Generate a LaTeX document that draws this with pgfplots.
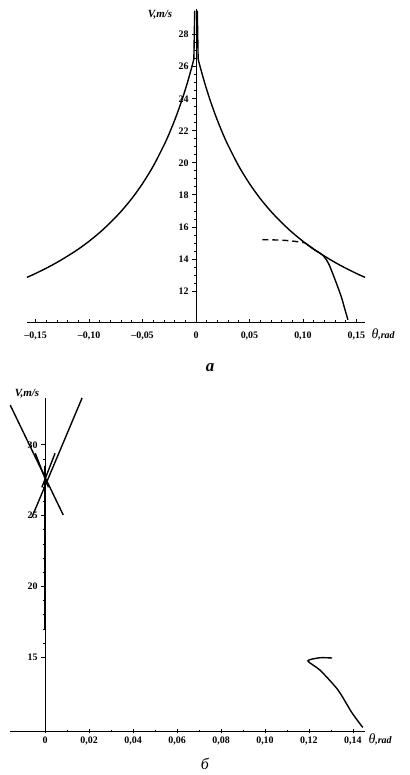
\documentclass[border=0pt]{standalone}
\usepackage{pgfplots}
\pgfplotsset{compat=1.18}
\usepackage{fontspec}
\setmainfont{Liberation Serif}

\pgfplotsset{
  velo/.style={
    scale only axis, clip=false,
    axis x line=bottom, axis y line=middle,
    axis line style={-, line width=1pt},
    hide obscured x ticks=false, hide obscured y ticks=false,
    major tick length=4bp, minor tick length=2.5bp,
    tick style={line width=0.7pt, black},
    ticklabel style={font=\fontsize{10}{11}\selectfont\bfseries},
  },
  crv/.style={black, line width=1.4pt, mark=none},
}

\begin{document}
\begin{tikzpicture}
\useasboundingbox (0,0) rectangle (410bp,775bp);

% ---- a ----
\begin{axis}[velo,
  at={(27bp,452bp)}, anchor=south west,
  width=338bp, height=314bp,
  xmin=-0.158, xmax=0.158, ymin=10, ymax=29.6,
  xtick={-0.15,-0.10,-0.05,0,0.05,0.10,0.15},
  xticklabels={{--0,15},{--0,10},{--0,05},{0},{0,05},{0,10},{0,15}},
  xticklabel style={yshift=-5bp},
  minor x tick num=4, xtick align=inside,
  ytick={12,14,16,18,20,22,24,26,28},
  yticklabels={12,14,16,18,20,22,24,26,28},
  minor y tick num=3, ytick align=outside,
]
\addplot[crv, smooth] coordinates {
  (-0.158,12.85) (-0.15,13.09) (-0.14,13.42) (-0.13,13.78) (-0.12,14.18)
  (-0.11,14.61) (-0.10,15.10) (-0.09,15.65) (-0.08,16.27) (-0.07,16.97)
  (-0.06,17.77) (-0.05,18.70) (-0.04,19.79) (-0.03,21.09) (-0.025,21.83)
  (-0.02,22.65) (-0.016,23.37) (-0.012,24.15) (-0.008,25.01) (-0.004,25.96)
  (-0.002,26.47)
};
\addplot[crv] coordinates {(-0.002,26.47) (-0.0012,29.5)};
\addplot[crv, smooth] coordinates {
  (0.002,26.47) (0.004,25.96) (0.008,25.01) (0.012,24.15) (0.016,23.37)
  (0.02,22.65) (0.025,21.83) (0.03,21.09) (0.04,19.79) (0.05,18.70)
  (0.06,17.77) (0.07,16.97) (0.08,16.27) (0.09,15.65) (0.10,15.10)
  (0.11,14.61) (0.12,14.18) (0.13,13.78) (0.14,13.42) (0.15,13.09)
  (0.158,12.85)
};
\addplot[crv] coordinates {(0.002,26.47) (0.0012,29.5)};
\addplot[crv, smooth, dash pattern=on 6bp off 4bp] coordinates {
  (0.062,15.2) (0.08,15.17) (0.092,15.1) (0.102,15.0)
};
\addplot[crv, smooth] coordinates {
  (0.102,15.0) (0.11,14.61) (0.119,14.2) (0.124,13.7) (0.128,13.05)
  (0.132,12.35) (0.136,11.6) (0.139,10.9) (0.142,10.2)
};
\end{axis}

% ---- b ----
\begin{axis}[velo,
  at={(10bp,44bp)}, anchor=south west,
  width=355bp, height=333bp,
  xmin=-0.016, xmax=0.1455, ymin=9.8, ymax=33.3,
  xtick={0,0.02,0.04,0.06,0.08,0.10,0.12,0.14},
  xticklabels={{0},{0,02},{0,04},{0,06},{0,08},{0,10},{0,12},{0,14}},
  minor x tick num=1, xtick align=center,
  ytick={15,20,25,30}, yticklabels={15,20,25,30},
  minor y tick num=4, ytick align=outside,
]
\addplot[crv] coordinates {(-0.0159,32.8) (0.0082,25.05)};
\addplot[crv] coordinates {(0.0168,33.3) (-0.006,24.9)};
\addplot[crv] coordinates {(-0.0045,29.4) (0.0015,27.0)};
\addplot[crv] coordinates {(0.0045,29.4) (-0.0015,27.0)};
\addplot[crv, line width=1.6pt] coordinates {(0,28.5) (0,17)};
\addplot[crv, smooth, tension=0.4] coordinates {
  (0.1305,14.95) (0.125,14.97) (0.1195,14.75) (0.125,14.1) (0.1332,12.7)
  (0.1395,11.1) (0.1445,10.05)
};
\end{axis}

% labels
\node[font=\fontsize{11}{12}\selectfont\bfseries\itshape] at (160bp,760bp) {V,m/s};
\node[anchor=west] at (368bp,441bp) {\fontsize{14}{14}\selectfont\itshape θ\fontsize{10}{11}\selectfont\bfseries,rad};
\node[font=\fontsize{17}{17}\selectfont\bfseries\itshape] at (210bp,407bp) {a};
\node[font=\fontsize{11}{12}\selectfont\bfseries\itshape] at (27bp,381bp) {V,m/s};
\node[anchor=west] at (365bp,36bp) {\fontsize{14}{14}\selectfont\itshape θ\fontsize{10}{11}\selectfont\bfseries,rad};
\node[font=\fontsize{16}{16}\selectfont\itshape] at (205bp,11bp) {б};
\end{tikzpicture}
\end{document}
